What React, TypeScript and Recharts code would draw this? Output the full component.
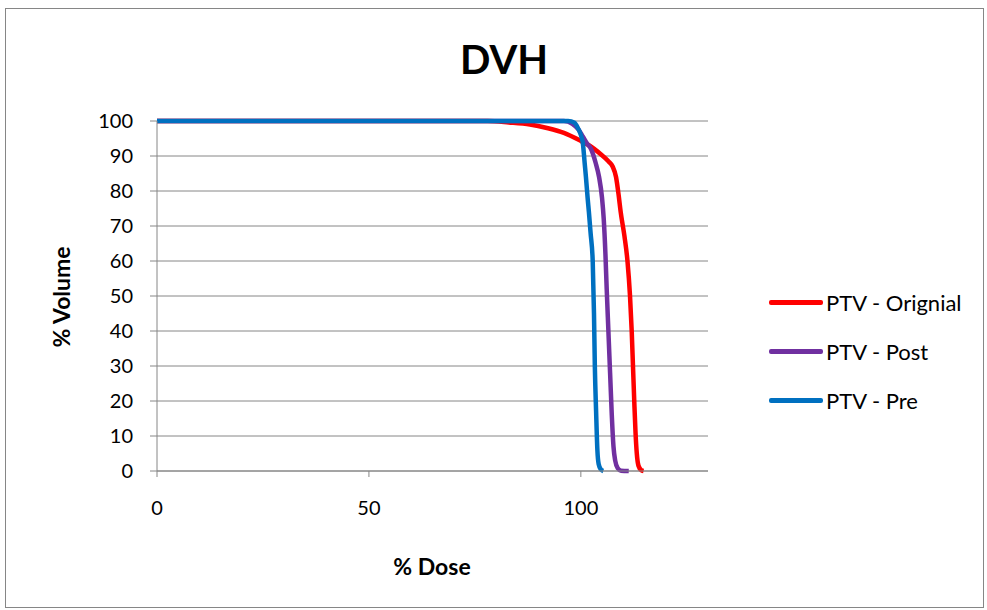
import React from "react";
import { LineChart, Line, XAxis, YAxis, CartesianGrid } from "recharts";

// % Dose / % Volume pairs for each plan
const originalDose = [0, 78, 83, 88, 92, 96, 100, 102, 104.7, 106.5, 107.5, 108.3, 108.9, 109.4, 110.3, 111, 111.6, 112, 112.3, 112.6, 112.9, 113.2, 113.6, 114.2, 114.8];
const originalVolume = [100, 100, 99.6, 99, 98, 96.6, 94.3, 93, 90.5, 88.5, 87, 84, 79, 74, 67, 60, 50, 40, 30, 20, 11, 5, 1.5, 0.3, 0];

const postDose = [0, 96, 98, 99.5, 100.5, 101.5, 102.4, 103.5, 104.3, 105, 105.4, 105.8, 106.1, 106.5, 106.9, 107.3, 107.7, 108.1, 108.7, 109.5, 111.3];
const postVolume = [100, 100, 99.2, 97.5, 95.5, 93.5, 92, 88, 84, 78, 72, 62, 52, 40, 28, 16, 7, 3, 0.8, 0.1, 0];

const preDose = [0, 97, 98.5, 99.3, 100, 100.5, 100.9, 101.2, 101.6, 101.9, 102.3, 102.8, 103.1, 103.3, 103.6, 103.9, 104.2, 104.7, 105.3];
const preVolume = [100, 100, 99.5, 98, 96, 93.4, 88, 84, 78, 74, 68, 60, 45, 30, 17, 6, 2, 0.5, 0];

const xTicks = [0, 50, 100];
const yTicks = [0, 10, 20, 30, 40, 50, 60, 70, 80, 90, 100];

const toPoints = (dose: number[], volume: number[]) =>
  dose.map((d, i) => ({ dose: d, volume: volume[i] }));

const series = [
  { name: "PTV - Orignial", color: "#FF0000", data: toPoints(originalDose, originalVolume) },
  { name: "PTV - Post", color: "#7030A0", data: toPoints(postDose, postVolume) },
  { name: "PTV - Pre", color: "#0070C0", data: toPoints(preDose, preVolume) },
];

const FONT = "Lato, 'Open Sans', sans-serif";
const GRID = "#868686";

export default function App() {
  return (
    <div
      style={{
        position: "absolute",
        left: 5,
        top: 8,
        width: 979,
        height: 600,
        border: "1px solid #868686",
        boxSizing: "border-box",
        background: "#fff",
        fontFamily: FONT,
      }}
    >
      <div
        style={{
          position: "absolute",
          left: 0,
          width: 996,
          top: 26,
          textAlign: "center",
          fontSize: 40,
          fontWeight: 700,
        }}
      >
        DVH
      </div>
      <div
        style={{
          position: "absolute",
          left: 55,
          top: 288,
          transform: "translate(-50%, -50%) rotate(-90deg)",
          fontSize: 23,
          fontWeight: 700,
          whiteSpace: "nowrap",
        }}
      >
        % Volume
      </div>
      <div
        style={{
          position: "absolute",
          left: 426,
          top: 557,
          transform: "translate(-50%, -50%)",
          fontSize: 23,
          fontWeight: 700,
          whiteSpace: "nowrap",
        }}
      >
        % Dose
      </div>

      <LineChart
        width={977}
        height={598}
        margin={{ top: 112, right: 275, bottom: 106, left: 91 }}
      >
        <CartesianGrid vertical={false} stroke={GRID} />
        <XAxis
          type="number"
          dataKey="dose"
          domain={[0, 130]}
          ticks={xTicks}
          allowDuplicatedCategory={false}
          height={30}
          stroke={GRID}
          tickSize={6}
          tickMargin={24}
          tick={{ fill: "#000", fontSize: 20, fontFamily: FONT }}
        />
        <YAxis
          type="number"
          domain={[0, 100]}
          ticks={yTicks}
          width={60}
          stroke={GRID}
          tickSize={7}
          tickMargin={17}
          tick={{ fill: "#000", fontSize: 20, fontFamily: FONT }}
        />
        {series.map((s) => (
          <Line
            key={s.name}
            data={s.data}
            dataKey="volume"
            name={s.name}
            type="monotone"
            stroke={s.color}
            strokeWidth={4.5}
            dot={false}
            isAnimationActive={false}
          />
        ))}
      </LineChart>

      <div style={{ position: "absolute", left: 763, top: 269 }}>
        {series.map((s) => (
          <div
            key={s.name}
            style={{ display: "flex", alignItems: "center", height: 49 }}
          >
            <div
              style={{
                width: 54,
                height: 4.5,
                borderRadius: 2,
                background: s.color,
                marginRight: 3,
              }}
            />
            <span style={{ fontSize: 22 }}>{s.name}</span>
          </div>
        ))}
      </div>
    </div>
  );
}
